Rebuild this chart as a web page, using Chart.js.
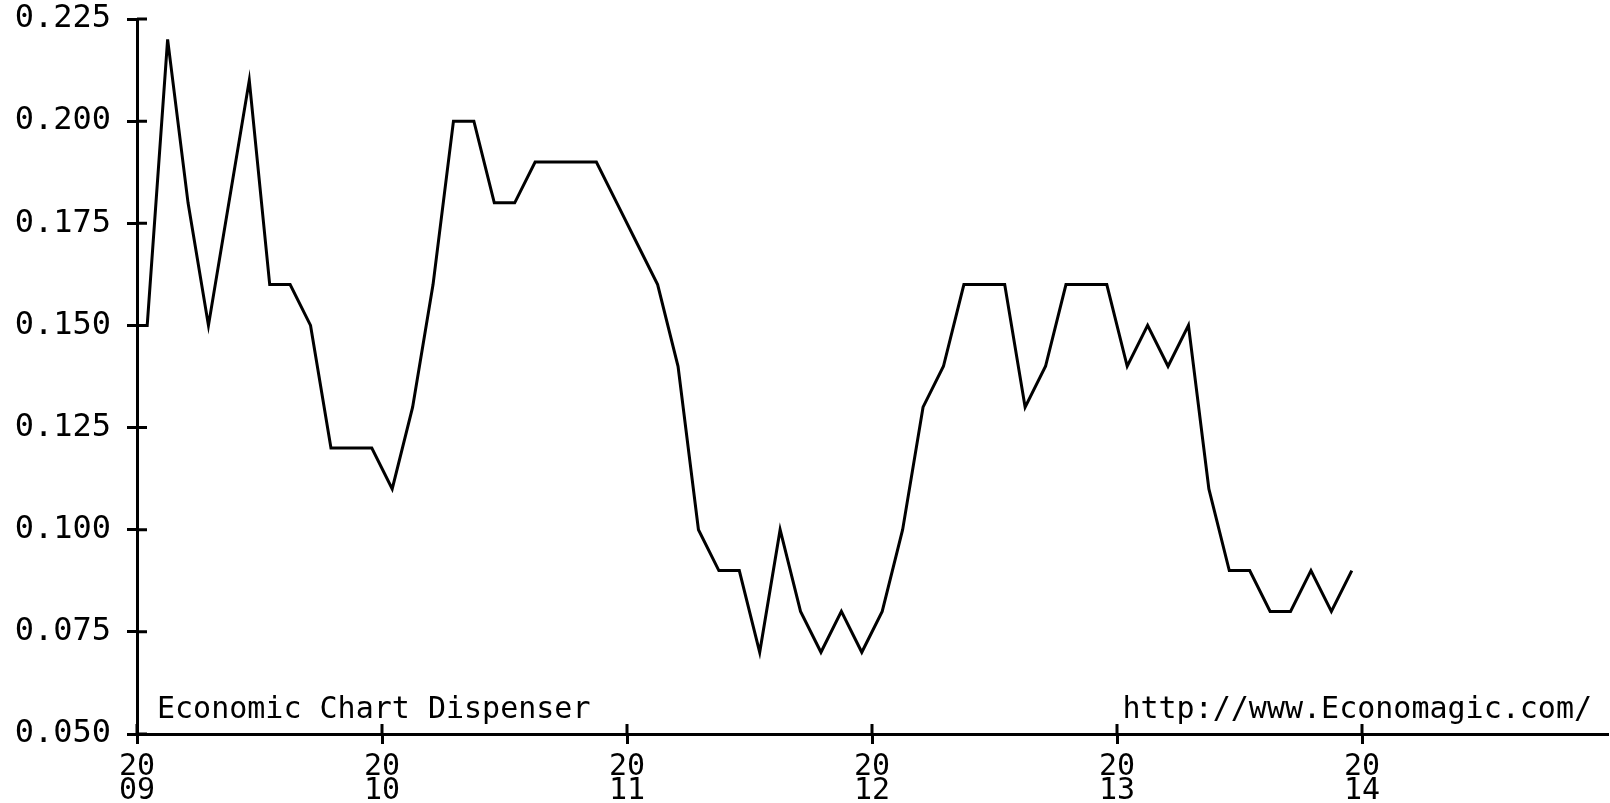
<!DOCTYPE html>
<html>
<head>
<meta charset="utf-8">
<script src="https://cdn.jsdelivr.net/npm/chart.js@4/dist/chart.umd.min.js"></script>
<style>
  html, body { margin: 0; padding: 0; background: #fff; }
  #wrap { width: 1610px; height: 803px; }
</style>
</head>
<body>
<div id="wrap"><canvas id="myChart" width="1610" height="803"></canvas></div>
<script>
// monthly values, plotted at mid-month
var rate2008 = [0.15]; // December only
var rate2009 = [0.15, 0.22, 0.18, 0.15, 0.18, 0.21, 0.16, 0.16, 0.15, 0.12, 0.12, 0.12];
var rate2010 = [0.11, 0.13, 0.16, 0.20, 0.20, 0.18, 0.18, 0.19, 0.19, 0.19, 0.19, 0.18];
var rate2011 = [0.17, 0.16, 0.14, 0.10, 0.09, 0.09, 0.07, 0.10, 0.08, 0.07, 0.08, 0.07];
var rate2012 = [0.08, 0.10, 0.13, 0.14, 0.16, 0.16, 0.16, 0.13, 0.14, 0.16, 0.16, 0.16];
var rate2013 = [0.14, 0.15, 0.14, 0.15, 0.11, 0.09, 0.09, 0.08, 0.08, 0.09, 0.08, 0.09];

var yTicks = [0.050, 0.075, 0.100, 0.125, 0.150, 0.175, 0.200, 0.225];
var xYears = [2009, 2010, 2011, 2012, 2013, 2014];

var leftNote = "Economic Chart Dispenser";
var rightNote = "http://www.Economagic.com/";

var FONT = '"DejaVu Sans Mono", "Liberation Mono", monospace';

function yearPoints(year, values, firstMonth) {
    return values.map(function (v, i) {
        return { x: year + (firstMonth + i + 0.5) / 12, y: v };
    });
}

var points = []
    .concat(yearPoints(2008, rate2008, 11))
    .concat(yearPoints(2009, rate2009, 0))
    .concat(yearPoints(2010, rate2010, 0))
    .concat(yearPoints(2011, rate2011, 0))
    .concat(yearPoints(2012, rate2012, 0))
    .concat(yearPoints(2013, rate2013, 0));

// ticks that cross the axis line, plus the two captions
var crossTicks = {
    id: "crossTicks",
    afterDraw: function (chart) {
        var ctx = chart.ctx;
        var area = chart.chartArea;
        var xs = chart.scales.x;
        var ys = chart.scales.y;
        ctx.save();
        ctx.strokeStyle = "#000";
        ctx.lineWidth = 3;
        ctx.beginPath();
        ys.ticks.forEach(function (t) {
            var py = ys.getPixelForValue(t.value);
            ctx.moveTo(area.left, py);
            ctx.lineTo(area.left + 10, py);
        });
        xs.ticks.forEach(function (t) {
            var px = xs.getPixelForValue(t.value);
            ctx.moveTo(px, area.bottom);
            ctx.lineTo(px, area.bottom - 10);
        });
        ctx.stroke();

        ctx.fillStyle = "#000";
        ctx.font = "30px " + FONT;
        ctx.textBaseline = "alphabetic";
        ctx.textAlign = "left";
        ctx.fillText(leftNote, area.left + 20, area.bottom - 16);
        ctx.textAlign = "right";
        ctx.fillText(rightNote, area.right - 15, area.bottom - 16);
        ctx.restore();
    },
};

var ctx = document.getElementById("myChart").getContext("2d");
var myChart = new Chart(ctx, {
    type: "line",
    data: {
        datasets: [
            {
                data: points,
                borderColor: "#000000",
                borderWidth: 3,
                pointRadius: 0,
                tension: 0,
                fill: false,
            },
        ],
    },
    options: {
        responsive: false,
        animation: false,
        layout: {
            padding: { top: 19, right: 3, left: 0, bottom: 0 },
        },
        plugins: {
            legend: { display: false },
            tooltip: { enabled: false },
            title: { display: false },
        },
        scales: {
            x: {
                type: "linear",
                min: 2009,
                max: 2015,
                afterBuildTicks: function (scale) {
                    scale.ticks = xYears.map(function (v) { return { value: v }; });
                },
                afterFit: function (scale) {
                    scale.height = 69;
                    scale.paddingLeft = 0;
                    scale.paddingRight = 0;
                },
                grid: {
                    drawOnChartArea: false,
                    drawTicks: true,
                    tickLength: 10,
                    color: "#000",
                    lineWidth: 3,
                },
                border: { display: true, color: "#000", width: 3 },
                ticks: {
                    color: "#000",
                    padding: 12,
                    maxRotation: 0,
                    autoSkip: false,
                    font: { family: FONT, size: 30, lineHeight: 0.78 },
                    callback: function (v) {
                        var s = String(v);
                        return [s.slice(0, 2), s.slice(2)];
                    },
                },
            },
            y: {
                min: 0.05,
                max: 0.225,
                afterBuildTicks: function (scale) {
                    scale.ticks = yTicks.map(function (v) { return { value: v }; });
                },
                afterFit: function (scale) {
                    scale.width = 137;
                    scale.paddingTop = 0;
                    scale.paddingBottom = 0;
                },
                grid: {
                    drawOnChartArea: false,
                    drawTicks: true,
                    tickLength: 10,
                    color: "#000",
                    lineWidth: 3,
                },
                border: { display: true, color: "#000", width: 3 },
                ticks: {
                    color: "#000",
                    padding: 16,
                    autoSkip: false,
                    font: { family: FONT, size: 32 },
                    callback: function (v) {
                        return Number(v).toFixed(3);
                    },
                },
            },
        },
    },
    plugins: [crossTicks],
});
</script>
</body>
</html>
